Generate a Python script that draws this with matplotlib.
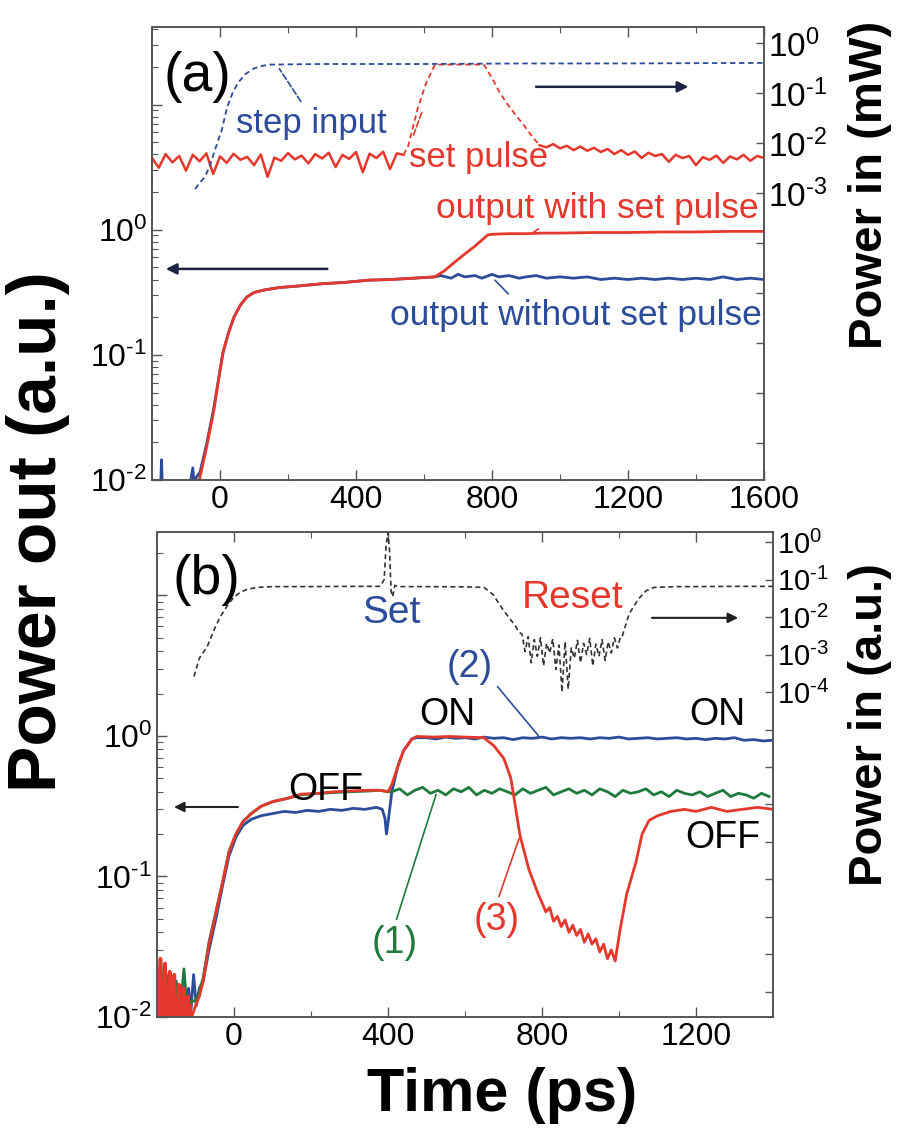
import numpy as np
import matplotlib.pyplot as plt
from matplotlib.ticker import FixedLocator, FuncFormatter, LogLocator, MultipleLocator, NullLocator

plt.rcParams['font.family'] = ['Liberation Sans', 'DejaVu Sans']
plt.rcParams['mathtext.default'] = 'regular'

RED = '#e5382c'
BLUE = '#2b4b9b'
GREEN = '#1f7a3c'
DARK = '#333333'

# ---------------- panel (a) data ----------------
# output (left axis, a.u.)
a_blue_t = [-200, -175, -172, -169, -150, -130, -110, -90, -80, -76, -70, -59, -40, -18, 0, 9, 25, 41, 60, 79,
            100, 130, 174, 230, 300, 370, 435, 500, 570, 632,
            650, 680, 700, 720, 750, 770, 800, 820, 850, 880, 900, 930, 960, 1000, 1040, 1080, 1120, 1160,
            1200, 1240, 1280, 1320, 1360, 1400, 1440, 1480, 1520, 1560, 1600]
a_blue_v = [0.008, 0.008, 0.0145, 0.008, 0.0095, 0.0088, 0.0094, 0.0087, 0.0125, 0.009, 0.0105, 0.0115, 0.019,
            0.038, 0.075, 0.105, 0.15, 0.2, 0.25, 0.29, 0.315, 0.33, 0.345, 0.355, 0.37, 0.38, 0.395, 0.40, 0.41,
            0.42, 0.43, 0.41, 0.44, 0.42, 0.43, 0.41, 0.44, 0.42, 0.43, 0.41, 0.42, 0.43, 0.41, 0.42, 0.41, 0.42,
            0.40, 0.41, 0.40, 0.41, 0.40, 0.41, 0.40, 0.41, 0.40, 0.42, 0.40, 0.41, 0.40]
a_red_t = [-65, -59, -40, -18, 0, 9, 25, 41, 60, 79, 100, 130, 174, 230, 300, 370, 435, 500, 570, 632,
           660, 690, 720, 750, 788, 800, 850, 900, 950, 1000, 1100, 1200, 1300, 1400, 1500, 1600]
a_red_v = [0.008, 0.0105, 0.018, 0.036, 0.075, 0.105, 0.15, 0.2, 0.25, 0.29, 0.315, 0.33, 0.345, 0.355, 0.37,
           0.38, 0.395, 0.40, 0.41, 0.42, 0.47, 0.55, 0.64, 0.74, 0.91, 0.92, 0.93, 0.93, 0.94, 0.94, 0.95,
           0.95, 0.96, 0.96, 0.97, 0.97]

# inputs (right axis, mW)
a_step_t = [-73, -60, -44, -30, -12, 5, 21, 37, 53, 75, 100, 125, 147, 300, 600, 900, 1200, 1600]
a_step_v = [0.0012, 0.0016, 0.0021, 0.0035, 0.0083, 0.018, 0.052, 0.10, 0.16, 0.24, 0.31, 0.35, 0.37, 0.38,
            0.38, 0.39, 0.39, 0.40]
a_set_pre_t = np.arange(-200, 541, 20)
a_set_pre_v = [0.0050, 0.0032, 0.0060, 0.0041, 0.0055, 0.0028, 0.0058, 0.0043, 0.0062, 0.0024,
               0.0054, 0.0040, 0.0061, 0.0046, 0.0053, 0.0036, 0.0059, 0.0021, 0.0051, 0.0044,
               0.0063, 0.0047, 0.0056, 0.0039, 0.0060, 0.0049, 0.0064, 0.0033, 0.0058, 0.0048,
               0.0066, 0.0026, 0.0061, 0.0050, 0.0067, 0.0030, 0.0062, 0.0058]
a_set_pulse_t = [540, 553, 580, 605, 632, 700, 776, 800, 820, 845, 870, 895, 920, 940]
a_set_pulse_v = [0.0058, 0.0085, 0.045, 0.15, 0.37, 0.37, 0.37, 0.2, 0.11, 0.06, 0.036, 0.022, 0.013, 0.009]
a_set_post_t = np.arange(940, 1601, 20)
a_set_post_v = [0.0090, 0.0082, 0.0095, 0.0078, 0.0088, 0.0072, 0.0085, 0.0070, 0.0080, 0.0066,
                0.0076, 0.0060, 0.0072, 0.0058, 0.0068, 0.0050, 0.0064, 0.0055, 0.0060, 0.0042,
                0.0058, 0.0050, 0.0055, 0.0036, 0.0052, 0.0046, 0.0056, 0.0040, 0.0054, 0.0047,
                0.0058, 0.0044, 0.0055, 0.0050]

# ---------------- panel (b) data ----------------
b_noise_t = np.arange(-200, -110, 3)
b_red_noise_v = [0.008, 0.022, 0.009, 0.026, 0.008, 0.018, 0.009, 0.024, 0.010, 0.016,
                 0.008, 0.021, 0.009, 0.015, 0.008, 0.020, 0.009, 0.014, 0.008, 0.017,
                 0.009, 0.013, 0.008, 0.016, 0.009, 0.012, 0.008, 0.014, 0.009, 0.012]
b_red_t = [-110, -100, -90, -80, -65, -47, -30, -13, 5, 23, 45, 70, 100, 140, 174, 220, 260, 300, 348, 380,
           400, 410, 425, 440, 462, 475, 520, 560, 600, 649, 675, 701, 719, 743, 766, 790, 800, 810, 820, 830,
           840, 850, 860, 870, 880, 890, 900, 910, 920, 930, 940, 950, 960, 970, 980, 990, 1003, 1020, 1044, 1060,
           1078, 1100, 1135, 1170, 1200, 1240, 1280, 1320, 1360, 1400]
b_red_v = [0.010, 0.012, 0.014, 0.018, 0.033, 0.055, 0.09, 0.15, 0.20, 0.245,
           0.28, 0.315, 0.34, 0.36, 0.385, 0.39, 0.40, 0.405, 0.41, 0.41,
           0.40, 0.45, 0.60, 0.78, 0.95, 0.99, 0.98, 0.99, 0.98, 0.97,
           0.85, 0.69, 0.50, 0.195, 0.112, 0.075, 0.065, 0.056, 0.06, 0.048,
           0.052, 0.044, 0.049, 0.040, 0.045, 0.038, 0.042, 0.034, 0.039, 0.033,
           0.036, 0.029, 0.033, 0.026, 0.030, 0.025, 0.042, 0.075, 0.126, 0.20,
           0.25, 0.27, 0.29, 0.30, 0.29, 0.31, 0.29, 0.30, 0.31, 0.30]
b_blue_t = [-200, -150, -125, -118, -112, -105, -98, -90, -80, -65, -47, -30, -13, 5, 23, 45, 70, 100, 130, 160,
            190, 220, 250, 280, 310, 340, 370, 385, 392, 396, 400, 410, 425, 440, 462, 475]
b_blue_v = [0.008, 0.008, 0.009, 0.016, 0.011, 0.02, 0.012, 0.016, 0.018, 0.03, 0.05, 0.085, 0.14, 0.19, 0.23,
            0.255, 0.27, 0.28, 0.29, 0.285, 0.295, 0.29, 0.30, 0.295, 0.305, 0.30, 0.31, 0.30, 0.26, 0.20, 0.24,
            0.40, 0.6, 0.78, 0.95, 0.97]
b_blue_on_t = np.arange(500, 1401, 25)
b_blue_on_v = [0.97, 0.95, 0.98, 0.96, 0.97, 0.95, 0.98, 0.96, 0.97, 0.94,
               0.97, 0.96, 0.98, 0.95, 0.97, 0.96, 0.97, 0.95, 0.97, 0.96,
               0.98, 0.95, 0.96, 0.97, 0.95, 0.96, 0.97, 0.95, 0.96, 0.94,
               0.96, 0.95, 0.97, 0.93, 0.94, 0.92, 0.93]
b_green_t = [-200, -190, -180, -170, -160, -150, -140, -130, -120, -110, -100, -90, -80, -65, -47, -30, -13, 5,
             23, 45, 70, 100, 140, 174, 220, 260, 300, 348, 380, 400]
b_green_v = [0.012, 0.024, 0.01, 0.02, 0.009, 0.018, 0.011, 0.022, 0.01, 0.013, 0.013, 0.015, 0.019, 0.034,
             0.056, 0.09, 0.15, 0.2, 0.245, 0.28, 0.315, 0.34, 0.36, 0.38, 0.39, 0.395, 0.40, 0.405, 0.41, 0.40]
b_green_late_t = np.arange(410, 1400, 20)
b_green_late_v = [0.40, 0.42, 0.38, 0.41, 0.43, 0.39, 0.41, 0.38, 0.42, 0.40,
                  0.43, 0.38, 0.41, 0.39, 0.42, 0.40, 0.38, 0.42, 0.39, 0.41,
                  0.43, 0.38, 0.40, 0.42, 0.39, 0.41, 0.38, 0.42, 0.40, 0.37,
                  0.41, 0.39, 0.40, 0.42, 0.38, 0.40, 0.37, 0.41, 0.39, 0.38,
                  0.40, 0.37, 0.39, 0.41, 0.37, 0.39, 0.38, 0.36, 0.39, 0.37]
# input (right axis, a.u.)
b_in_pre_t = [-104, -90, -70, -50, -36, -15, 0, 15, 34, 60, 100, 200, 300, 380, 390, 395, 400, 404, 408, 412,
              418, 430, 500, 600, 649, 673, 700, 730, 740]
b_in_pre_v = [0.00026, 0.0008, 0.0016, 0.005, 0.01, 0.022, 0.034, 0.045, 0.055, 0.062, 0.065, 0.065, 0.066,
              0.066, 0.1, 0.8, 1.8, 0.6, 0.05, 0.035, 0.07, 0.065, 0.065, 0.064, 0.062, 0.04, 0.015, 0.006, 0.004]
b_in_reset_t = np.arange(748, 1009, 8)
b_in_reset_v = [0.0035, 0.0012, 0.003, 0.0006, 0.0025, 0.0009, 0.0028, 0.0005, 0.002, 0.0011,
                0.0026, 0.0004, 0.0018, 0.0001, 0.0022, 0.00012, 0.0015, 0.0008, 0.0024, 0.0006,
                0.002, 0.001, 0.0027, 0.0005, 0.0019, 0.0009, 0.0025, 0.0007, 0.0022, 0.0011,
                0.0028, 0.0015, 0.003]
b_in_post_t = [1008, 1026, 1050, 1070, 1091, 1150, 1200, 1300, 1400]
b_in_post_v = [0.003, 0.012, 0.03, 0.05, 0.062, 0.065, 0.065, 0.066, 0.066]


def dec_fmt(lo, hi=0):
    def f(v, pos):
        e = int(round(np.log10(v)))
        if e < lo or e > hi:
            return ''
        # short hyphen in the exponent, like the original figure
        return r'$10^{%s}$' % str(e).replace('-', '\u2010')
    return FuncFormatter(f)


def style(ax, ax2, xlim, ylim, ylim2, lo2, rsize):
    ax.set_yscale('log')
    ax2.set_yscale('log')
    ax.set_xlim(*xlim)
    ax.set_ylim(*ylim)
    ax2.set_ylim(*ylim2)
    ax.xaxis.set_major_locator(MultipleLocator(400))
    ax.xaxis.set_minor_locator(MultipleLocator(200))
    ax.yaxis.set_major_locator(LogLocator(base=10, numticks=10))
    ax.yaxis.set_minor_locator(LogLocator(base=10, subs=np.arange(2, 10), numticks=10))
    ax.yaxis.set_major_formatter(dec_fmt(-2))
    ax.tick_params(which='both', direction='in', top=True, right=False, labelsize=23, color='#555555')
    ax.tick_params(which='major', length=7, width=1)
    ax.tick_params(which='minor', length=4, width=0.8)
    ax2.yaxis.set_major_locator(FixedLocator(10.0 ** np.arange(-13, 1)))
    ax2.yaxis.set_minor_locator(NullLocator())
    ax2.yaxis.set_major_formatter(dec_fmt(lo2))
    ax2.tick_params(which='major', direction='in', length=6, width=1, labelsize=rsize, pad=3, color='#555555')
    for a in (ax, ax2):
        for s in a.spines.values():
            s.set_color('#555555')
            s.set_linewidth(1.2)


fig = plt.figure(figsize=(8.97, 11.29), dpi=100)

# ---------------- panel (a) ----------------
ax = fig.add_axes([152 / 897, 1 - 480 / 1129, 612 / 897, 453 / 1129])
ax2 = ax.twinx()
style(ax, ax2, (-200, 1600), (1e-2, 10 ** 1.62), (10 ** -8.74, 10 ** 0.32), -3, 24)

ax.plot(a_blue_t, a_blue_v, color=BLUE, lw=2)
ax.plot(a_red_t, a_red_v, color=RED, lw=2)
ax2.plot(a_set_pre_t, a_set_pre_v, color=RED, lw=1.8)
ax2.plot(a_set_pulse_t, a_set_pulse_v, color=RED, lw=1.3, dashes=(3, 2))
ax2.plot(a_set_post_t, a_set_post_v, color=RED, lw=1.8)
ax2.plot(a_step_t, a_step_v, color=BLUE, lw=1.3, dashes=(3, 2))

ax.text(0.075, 0.89, '(a)', transform=ax.transAxes, fontsize=40, ha='center', va='center')
ax2.annotate('step input', xy=(170, 0.34), xytext=(0.261, 0.788), textcoords='axes fraction',
             color=BLUE, fontsize=25, ha='center', va='center',
             arrowprops=dict(arrowstyle='-', color=BLUE, lw=1.2, ls='--', relpos=(0.45, 1.0)))
ax2.annotate('set pulse', xy=(598, 0.05), xytext=(0.534, 0.713), textcoords='axes fraction',
             color=RED, fontsize=25, ha='center', va='center',
             arrowprops=dict(arrowstyle='-', color=RED, lw=1.2, ls='--', relpos=(0.0, 0.8)))
ax.annotate('output with set pulse', xy=(915, 0.93), xytext=(0.727, 0.600), textcoords='axes fraction',
            color=RED, fontsize=25.5, ha='center', va='center',
            arrowprops=dict(arrowstyle='-', color=RED, lw=1.2, relpos=(0.34, 0.0)))
ax.annotate('output without set pulse', xy=(803, 0.41), xytext=(0.693, 0.364), textcoords='axes fraction',
            color=BLUE, fontsize=25.5, ha='center', va='center',
            arrowprops=dict(arrowstyle='-', color=BLUE, lw=1.2, relpos=(0.33, 1.0)))
ax.annotate('', xy=(0.881, 0.868), xytext=(0.623, 0.868), xycoords='axes fraction',
            arrowprops=dict(arrowstyle='-|>', color='#1c2340', lw=1.8, mutation_scale=16))
ax.annotate('', xy=(0.018, 0.466), xytext=(0.291, 0.466), xycoords='axes fraction',
            arrowprops=dict(arrowstyle='-|>', color='#1c2340', lw=1.8, mutation_scale=16))

# ---------------- panel (b) ----------------
bx = fig.add_axes([157 / 897, 1 - 1017 / 1129, 616 / 897, 485 / 1129])
bx2 = bx.twinx()
style(bx, bx2, (-200, 1400), (1e-2, 10 ** 1.45), (10 ** -12.67, 10 ** 0.27), -4, 21)

bx2.plot(b_in_pre_t + list(b_in_reset_t) + b_in_post_t, b_in_pre_v + b_in_reset_v + b_in_post_v,
         color=DARK, lw=1.2, dashes=(3, 2))
bx.plot(b_blue_t + list(b_blue_on_t), b_blue_v + b_blue_on_v, color=BLUE, lw=2)
bx.plot(b_green_t + list(b_green_late_t), b_green_v + b_green_late_v, color=GREEN, lw=2)
bx.plot(b_noise_t, b_red_noise_v, color=RED, lw=2.6)
bx.plot(b_red_t, b_red_v, color=RED, lw=2)

bx.text(0.081, 0.901, '(b)', transform=bx.transAxes, fontsize=40, ha='center', va='center')
bx.text(0.380, 0.833, 'Set', transform=bx.transAxes, fontsize=28, color=BLUE, ha='center', va='center')
bx.text(0.675, 0.864, 'Reset', transform=bx.transAxes, fontsize=28, color=RED, ha='center', va='center')
bx.text(0.472, 0.623, 'ON', transform=bx.transAxes, fontsize=27, ha='center', va='center')
bx.text(0.909, 0.623, 'ON', transform=bx.transAxes, fontsize=27, ha='center', va='center')
bx.text(0.274, 0.468, 'OFF', transform=bx.transAxes, fontsize=27, ha='center', va='center')
bx.text(0.919, 0.369, 'OFF', transform=bx.transAxes, fontsize=27, ha='center', va='center')
bx.annotate('(2)', xy=(795, 0.97), xytext=(0.508, 0.722), textcoords='axes fraction', color=BLUE,
            fontsize=27, ha='center', va='center',
            arrowprops=dict(arrowstyle='-', color=BLUE, lw=1.2, relpos=(1.0, 0.1)))
bx.annotate('(1)', xy=(527, 0.40), xytext=(0.386, 0.153), textcoords='axes fraction', color=GREEN,
            fontsize=27, ha='center', va='center',
            arrowprops=dict(arrowstyle='-', color=GREEN, lw=1.2, relpos=(0.5, 1.0)))
bx.annotate('(3)', xy=(743, 0.195), xytext=(0.552, 0.200), textcoords='axes fraction', color=RED,
            fontsize=27, ha='center', va='center',
            arrowprops=dict(arrowstyle='-', color=RED, lw=1.2, relpos=(0.5, 1.0)))
bx.annotate('', xy=(0.948, 0.823), xytext=(0.799, 0.823), xycoords='axes fraction',
            arrowprops=dict(arrowstyle='-|>', color='#222222', lw=1.5, mutation_scale=15))
bx.annotate('', xy=(0.023, 0.433), xytext=(0.136, 0.433), xycoords='axes fraction',
            arrowprops=dict(arrowstyle='-|>', color='#222222', lw=1.5, mutation_scale=15))

# ---------------- axis titles ----------------
fig.text(38 / 897, 1 - 532 / 1129, 'Power out (a.u.)', rotation=90, fontsize=50, weight='bold',
         ha='center', va='center')
fig.text(870 / 897, 1 - 185 / 1129, 'Power in (mW)', rotation=90, fontsize=34, weight='bold',
         ha='center', va='center')
fig.text(870 / 897, 1 - 725 / 1129, 'Power in (a.u.)', rotation=90, fontsize=34, weight='bold',
         ha='center', va='center')
fig.text(502 / 897, 1 - 1095 / 1129, 'Time (ps)', fontsize=44, weight='bold',
         ha='center', va='center')

fig.savefig('out.png', dpi=100)
